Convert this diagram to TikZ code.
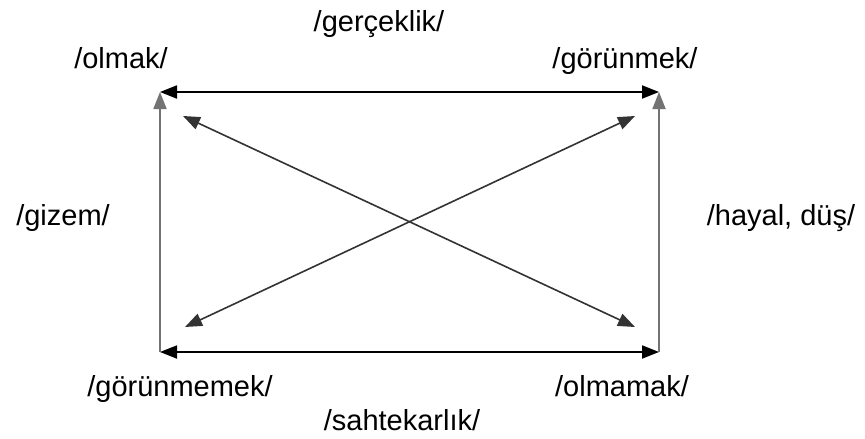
\documentclass[tikz,border=0pt]{standalone}
\usepackage{fontspec}
\setmainfont{Liberation Sans}
\usetikzlibrary{arrows.meta}
\begin{document}
\begin{tikzpicture}[x=1pt,y=-1pt,
  lbl/.style={anchor=base,inner sep=0pt,font=\fontsize{29}{32}\selectfont},
  ar/.style={line width=1.8pt,-{Triangle[length=17pt,width=13pt]}},
  dar/.style={line width=1.8pt,{Triangle[length=17pt,width=13pt]}-{Triangle[length=17pt,width=13pt]}},
  dgl/.style={line width=1.6pt,black!80,{Triangle[length=17pt,width=13pt]}-{Triangle[length=17pt,width=13pt]}}]
\useasboundingbox (0,0) rectangle (865,439);
\coordinate (TL) at (160,92);
\coordinate (TR) at (659,92);
\coordinate (BL) at (160,352);
\coordinate (BR) at (659,352);
\coordinate (d1a) at (183,116);
\coordinate (d1b) at (635,327);
\coordinate (d2a) at (185,327);
\coordinate (d2b) at (635,116);
\draw[dar] (TL) -- (TR);
\draw[dar] (BL) -- (BR);
\draw[ar,black!55] (BL) -- (TL);
\draw[ar,black!55] (BR) -- (TR);
\draw[dgl] (d1a) -- (d1b);
\draw[dgl] (d2a) -- (d2b);
\node[lbl] (olmak) at (121,68) {/olmak/};
\node[lbl] (gercek) at (379,31) {/gerçeklik/};
\node[lbl] (gorun) at (625,68) {/görünmek/};
\node[lbl] (gizem) at (63,225) {/gizem/};
\node[lbl] (hayal) at (781,225) {/hayal, düş/};
\node[lbl] (gorme) at (180,396) {/görünmemek/};
\node[lbl] (olmama) at (622,396) {/olmamak/};
\node[lbl] (sahte) at (402,430) {/sahtekarlık/};
\end{tikzpicture}
\end{document}
